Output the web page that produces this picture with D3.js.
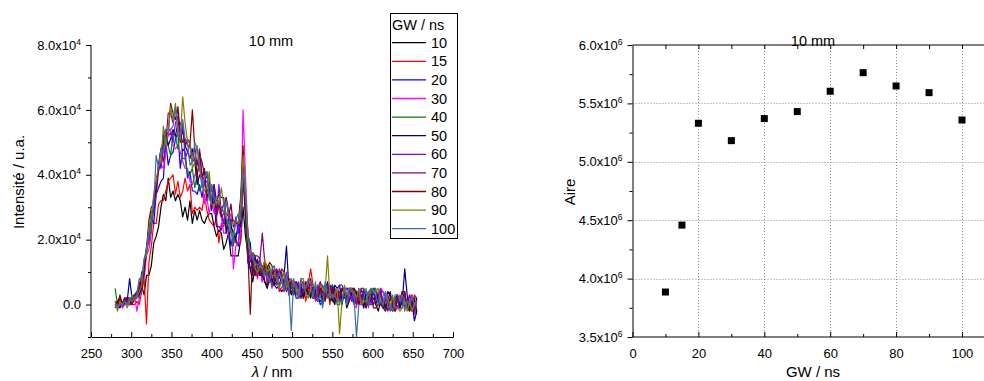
<!DOCTYPE html>
<html><head><meta charset="utf-8">
<script src="https://cdn.jsdelivr.net/npm/d3@7/dist/d3.min.js"></script>
<style>
html,body{margin:0;padding:0;background:#fff;}
svg{display:block;font-family:"Liberation Sans",Arial,sans-serif;}
</style></head>
<body><svg id="c" width="984" height="381"></svg>
<script>
// ---------- DATA ----------
const wavelengths = [280,283,286,289,292,295,298,301,304,307,310,313,316,319,322,325,328,331,334,337,340,343,346,349,352,355,358,361,364,367,370,373,376,379,382,385,388,391,394,397,400,403,406,409,412,415,418,421,424,427,430,433,436,439,442,445,448,451,454,457,460,463,466,469,472,475,478,481,484,487,490,493,496,499,502,505,508,511,514,517,520,523,526,529,532,535,538,541,544,547,550,553,556,559,562,565,568,571,574,577,580,583,586,589,592,595,598,601,604,607,610,613,616,619,622,625,628,631,634,637,640,643,646,649,652,655];
// intensities in units of 1e3 (u.a.)
const gw10 = [-1,0,-1,1,0,2,2,0,2,2, 5,6,3,9,9,12,19,21,24,30, 34,32,39,33,35,32,34,32,27,30, 26,32,25,29,26,29,26,25,27,28, 28,24,21,23,22,17,19,22,15,15, 15,15,20,30,21,16,11,7,11,10, 12,12,7,5,8,10,9,8,5,4, 5,9,6,3,5,7,5,5,2,4, 4,2,5,2,1,5,0,3,3,2, 2,0,4,4,0,4,-1,1,4,3, 4,3,2,3,2,0,2,2,0,-2, 1,-1,-1,4,3,-1,-1,3,0,4, -1,0,-1,-2,2,-2];
const gw15 = [0,1,1,-1,2,2,2,0,0,1, 0,4,8,-6,13,18,25,25,31,32, 32,35,38,39,40,34,38,33,35,39, 35,37,28,30,29,30,29,34,29,26, 25,24,27,19,25,24,27,21,23,22, 19,19,19,38,28,16,14,14,12,8, 13,10,13,6,11,6,11,10,4,5, 7,6,4,7,7,3,5,7,7,1, 6,11,6,4,2,3,4,2,6,0, 6,3,2,4,4,5,5,5,3,5, 4,4,0,5,1,1,2,4,2,4, 4,4,1,1,-1,2,-2,3,-1,1, 3,-1,-1,0,3,2];
const gw20 = [0,0,2,0,0,1,1,2,3,4, 2,10,11,17,22,27,25,34,36,38, 39,50,43,46,47,51,53,42,48,47, 39,41,35,35,34,37,33,38,38,36, 33,31,24,24,23,26,26,24,18,22, 20,18,27,45,27,13,11,12,15,10, 13,7,12,9,11,6,6,5,6,9, 4,6,8,5,6,2,2,6,3,5, 4,4,2,5,3,0,1,2,4,5, 6,1,1,1,3,2,3,1,4,5, 2,2,4,4,-1,4,4,5,4,2, 5,-1,2,1,0,-2,-1,-1,1,3, 0,-1,1,0,-3,2];
const gw30 = [-1,1,2,-1,0,1,0,0,3,-2, 2,6,8,15,17,22,32,34,41,43, 42,47,53,54,49,48,49,47,44,42, 42,38,37,40,41,42,40,31,33,28, 32,28,31,29,27,22,22,26,28,11, 18,19,22,60,40,22,16,11,11,12, 12,7,12,11,9,5,7,9,5,5, 7,8,3,7,7,7,4,2,5,7, 6,4,6,1,5,7,5,6,3,6, 2,5,3,3,1,5,5,4,5,0, -1,5,2,-1,3,4,0,0,2,2, 5,4,2,3,-1,0,-2,-1,3,1, 2,0,3,1,-3,-2];
const gw40 = [5,0,1,0,2,0,0,2,2,4, 6,9,11,18,19,24,29,36,42,44, 49,53,49,46,53,52,48,54,45,45, 40,40,42,36,40,35,37,37,36,33, 37,32,32,31,28,25,25,25,26,18, 22,22,30,43,28,14,14,14,12,10, 9,12,12,9,12,6,6,7,6,7, 5,8,3,7,3,7,2,3,5,5, 3,5,2,2,6,3,6,2,4,4, 6,5,0,0,5,5,0,5,2,0, 3,3,5,5,0,4,2,5,5,0, 3,0,-2,1,-1,-2,1,3,-1,4, -1,1,-1,1,0,-3];
const gw50 = [0,1,2,0,1,1,8,2,3,3, 3,5,12,16,22,28,29,38,42,43, 52,54,49,51,54,52,56,56,54,49, 47,45,48,44,37,40,39,41,39,39, 29,37,32,34,33,33,22,27,24,22, 20,25,24,41,30,21,19,9,14,13, 9,9,7,6,7,8,6,10,10,9, 9,18,5,4,4,6,6,5,2,5, 3,3,6,4,2,1,2,4,7,3, 1,6,5,6,1,4,1,5,3,1, 4,0,3,-1,4,2,1,4,0,3, 4,1,-1,1,4,-1,2,3,-1,1, 11,3,-2,1,-5,-2];
const gw60 = [0,-1,0,0,2,1,0,1,3,3, 6,6,12,16,20,28,30,34,43,42, 48,51,52,53,50,56,58,51,56,45, 47,49,46,48,43,48,40,38,32,36, 36,32,27,37,28,25,33,29,22,21, 27,22,32,41,33,18,13,15,9,9, 14,11,10,8,7,10,7,7,11,9, 7,10,4,8,6,6,7,3,4,7, 5,5,6,2,6,4,4,5,6,5, 2,4,1,6,6,4,5,4,1,4, 0,2,5,2,0,0,0,4,2,1, 5,0,4,0,-2,-1,-1,1,1,1, -1,-1,1,3,-1,-1];
const gw70 = [1,0,2,0,2,1,2,1,3,3, 6,8,9,17,24,25,33,36,43,48, 44,50,59,59,56,60,59,50,54,49, 51,50,44,45,43,46,44,40,41,34, 35,37,27,31,29,31,28,27,26,26, 25,25,31,45,33,22,16,16,15,15, 14,22,13,12,8,9,11,6,10,10, 6,4,6,7,5,7,5,6,7,5, 5,6,6,2,3,7,2,2,6,6, 4,1,4,1,5,5,3,1,5,2, 0,4,2,4,4,1,2,0,2,1, 0,-1,-2,0,2,1,1,-1,-1,-1, 4,-1,3,0,-2,1];
const gw80 = [1,0,3,0,2,2,1,0,2,3, 7,5,11,17,26,30,31,35,43,48, 50,52,53,62,59,57,61,53,50,51, 49,49,60,48,39,47,39,42,33,35, 36,34,29,32,27,28,33,27,31,24, 25,25,33,49,30,16,-3,16,9,14, 11,9,12,11,13,12,7,11,8,11, 10,5,8,4,3,6,3,2,5,7, 3,8,2,4,2,5,4,1,4,1, 5,1,4,2,5,3,2,5,5,5, 2,0,3,2,-1,1,4,-1,-1,0, 0,1,0,-2,2,0,-2,2,1,4, 4,-1,-2,0,2,2];
const gw90 = [1,-2,1,0,1,-1,1,3,1,2, 4,6,14,15,24,27,34,38,43,44, 55,49,53,61,57,62,52,51,64,56, 50,50,42,44,49,43,37,35,36,41, 31,30,33,31,36,31,27,24,23,21, 26,25,30,46,36,20,16,16,11,10, 12,11,14,10,11,9,9,8,5,7, 10,5,7,8,6,6,3,8,8,3, 2,5,6,5,6,6,5,4,15,2, 3,3,5,-9,1,6,3,5,4,4, 2,5,0,1,1,4,5,4,4,5, 1,0,3,2,-1,3,-1,-1,-2,-1, 1,-2,1,-2,0,1];
const gw100 = [-1,0,0,0,1,0,2,1,2,3, 8,8,14,17,22,25,31,46,42,48, 47,54,54,54,55,61,54,52,57,51, 50,43,44,50,48,42,36,39,41,32, 37,33,31,31,30,28,32,28,22,20, 26,28,26,41,33,23,16,14,13,12, 13,11,9,9,7,11,12,7,10,8, 4,9,5,-8,8,4,2,8,5,5, 8,7,2,7,1,3,-1,7,2,4, 2,3,1,1,1,5,0,5,5,2, -10,0,0,2,5,-1,5,4,3,0, 1,0,4,-1,0,-2,3,3,1,3, -2,1,0,3,0,0];

const seriesNames = ["10","15","20","30","40","50","60","70","80","90","100"];
const seriesColors = ["#000000","#ff0000","#0000ff","#ff00ff","#008000","#000080","#8000ff","#800080","#800000","#808000","#3c6eaa"];
const seriesValues = [gw10,gw15,gw20,gw30,gw40,gw50,gw60,gw70,gw80,gw90,gw100];

const xTicksL = [250,300,350,400,450,500,550,600,650,700];
const yTicksL = [0,20,40,60,80];         // x1e3
const yTickLabelsL = [["0.0",""],["2.0x10","4"],["4.0x10","4"],["6.0x10","4"],["8.0x10","4"]];

// right panel: integrated area (x1e6) vs gate width
const gwValues = [10,15,20,30,40,50,60,70,80,90,100];
const aireValues = [3.885,4.458,5.330,5.181,5.370,5.430,5.604,5.763,5.649,5.592,5.358];
const xTicksR = [0,20,40,60,80,100];
const yTicksR = [3.5,4.0,4.5,5.0,5.5,6.0];
const yTickLabelsR = ["3.5","4.0","4.5","5.0","5.5","6.0"];

// ---------- DRAW ----------
const svg = d3.select("#c");
const FONT = "13px";

// Left panel scales
const xL = d3.scaleLinear().domain([250,700]).range([91,453]);
const yL = d3.scaleLinear().domain([-10,80]).range([337,45]);

// spectra
const line = d3.line().x((d,i)=>xL(wavelengths[i])).y(d=>yL(d));
const gSpec = svg.append("g");
seriesValues.forEach((vals,k)=>{
  gSpec.append("path").datum(vals).attr("d",line)
    .attr("fill","none").attr("stroke",seriesColors[k]).attr("stroke-width",1.2)
    .attr("stroke-linejoin","round");
});

function styleAxis(g){
  g.select(".domain").attr("stroke","#000").attr("stroke-width",1);
  g.selectAll(".tick line").attr("stroke","#000").attr("stroke-width",1);
  g.selectAll("text").attr("fill","#000").style("font-size",FONT).style("font-family","'Liberation Sans',Arial,sans-serif");
}

// left x axis
const gxL = svg.append("g").attr("transform","translate(0,337)")
  .call(d3.axisBottom(xL).tickValues(xTicksL).tickSize(-5).tickSizeOuter(0).tickPadding(12));
styleAxis(gxL);
svg.append("g").attr("transform","translate(0,337)")
  .call(d3.axisBottom(xL).tickValues(d3.range(275,700,50)).tickSize(-3).tickSizeOuter(0).tickFormat(""))
  .call(g=>{g.select(".domain").remove(); g.selectAll("line").attr("stroke","#000");});

// left y axis
const gyL = svg.append("g").attr("transform","translate(91,0)")
  .call(d3.axisLeft(yL).tickValues(yTicksL).tickSize(5).tickSizeOuter(0).tickPadding(5));
styleAxis(gyL);
gyL.select(".domain").attr("d","M0,337V45");
gyL.selectAll(".tick text").each(function(d,i){
  const t = d3.select(this); t.text(null);
  const lab = yTickLabelsL[yTicksL.indexOf(d)];
  t.append("tspan").text(lab[0]);
  if(lab[1]) t.append("tspan").attr("dy","-5").style("font-size","8.5px").text(lab[1]);
});
svg.append("g").attr("transform","translate(91,0)")
  .call(d3.axisLeft(yL).tickValues([-10,10,30,50,70]).tickSize(3).tickSizeOuter(0).tickFormat(""))
  .call(g=>{g.select(".domain").remove(); g.selectAll("line").attr("stroke","#000");});

// left titles
svg.append("text").attr("x",271).attr("y",46).attr("text-anchor","middle")
  .style("font-size","14.5px").text("10 mm");
svg.append("text").attr("transform","translate(24,182) rotate(-90)").attr("text-anchor","middle")
  .style("font-size","15px").text("Intensité / u.a.");
const xt = svg.append("text").attr("x",272).attr("y",377).attr("text-anchor","middle").style("font-size","15px");
xt.append("tspan").style("font-style","italic").text("λ");
xt.append("tspan").text(" / nm");

// legend
const lg = svg.append("g");
lg.append("rect").attr("x",390.5).attr("y",13.5).attr("width",67).attr("height",225)
  .attr("fill","#fff").attr("stroke","#000").attr("stroke-width",1);
lg.append("text").attr("x",392).attr("y",30).style("font-size","14.5px").text("GW / ns");
seriesNames.forEach((n,k)=>{
  const cy = 42.7 + k*18.6;
  lg.append("line").attr("x1",392).attr("x2",426).attr("y1",cy).attr("y2",cy)
    .attr("stroke",seriesColors[k]).attr("stroke-width",1.3);
  lg.append("text").attr("x",431).attr("y",cy+5).style("font-size","14.5px").text(n);
});

// ---------- Right panel ----------
const xR = d3.scaleLinear().domain([0,100]).range([632.5,962]);
const yR = d3.scaleLinear().domain([3.5,6.0]).range([337,45]);

// grid
const grid = svg.append("g").attr("stroke","#8c8c8c").attr("stroke-width",1).attr("stroke-dasharray","1,2");
[20,40,60,80,100].forEach(v=>grid.append("line").attr("x1",Math.round(xR(v))+0.5).attr("x2",Math.round(xR(v))+0.5).attr("y1",45).attr("y2",337));
[4.0,4.5,5.0,5.5].forEach(v=>grid.append("line").attr("x1",632.5).attr("x2",984).attr("y1",Math.round(yR(v))+0.5).attr("y2",Math.round(yR(v))+0.5));

// bottom axis
const gxR = svg.append("g").attr("transform","translate(0,337)")
  .call(d3.axisBottom(xR).tickValues(xTicksR).tickSize(-5).tickSizeOuter(0).tickPadding(12));
styleAxis(gxR);
gxR.select(".domain").attr("d","M632.5,0H984");
svg.append("g").attr("transform","translate(0,337)")
  .call(d3.axisBottom(xR).tickValues([10,30,50,70,90]).tickSize(-3).tickSizeOuter(0).tickFormat(""))
  .call(g=>{g.select(".domain").remove(); g.selectAll("line").attr("stroke","#000");});
// top axis
const gtR = svg.append("g").attr("transform","translate(0,45)")
  .call(d3.axisTop(xR).tickValues([10,20,30,40,50,60,70,80,90,100]).tickSize(-4).tickSizeOuter(0).tickFormat(""));
styleAxis(gtR);
gtR.select(".domain").attr("d","M632.5,0H984");

// left axis
const gyR = svg.append("g").attr("transform","translate(632.5,0)")
  .call(d3.axisLeft(yR).tickValues(yTicksR).tickSize(5).tickSizeOuter(0).tickPadding(5));
styleAxis(gyR);
gyR.selectAll(".tick text").each(function(d){
  const t = d3.select(this); t.text(null);
  t.append("tspan").text(yTickLabelsR[yTicksR.indexOf(d)]+"x10");
  t.append("tspan").attr("dy","-5").style("font-size","8.5px").text("6");
});
svg.append("g").attr("transform","translate(632.5,0)")
  .call(d3.axisLeft(yR).tickValues([3.75,4.25,4.75,5.25,5.75]).tickSize(3).tickSizeOuter(0).tickFormat(""))
  .call(g=>{g.select(".domain").remove(); g.selectAll("line").attr("stroke","#000");});

// points
svg.append("g").selectAll("rect").data(gwValues).join("rect")
  .attr("x",(d,i)=>xR(d)-3.5).attr("y",(d,i)=>yR(aireValues[i])-3.5)
  .attr("width",7).attr("height",7).attr("fill","#000");

// right titles
svg.append("text").attr("x",813).attr("y",46).attr("text-anchor","middle")
  .style("font-size","14.5px").text("10 mm");
svg.append("text").attr("transform","translate(575,192) rotate(-90)").attr("text-anchor","middle")
  .style("font-size","15px").text("Aire");
svg.append("text").attr("x",813).attr("y",377).attr("text-anchor","middle")
  .style("font-size","15px").text("GW / ns");
</script></body></html>
